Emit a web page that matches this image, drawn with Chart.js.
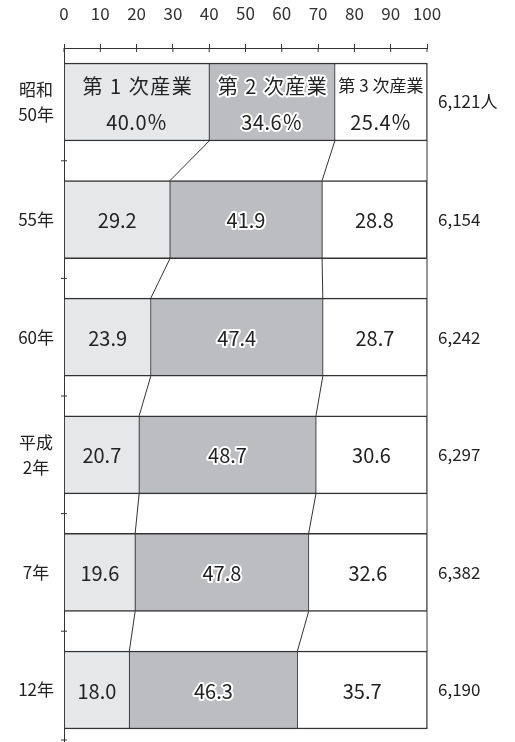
<!DOCTYPE html>
<html>
<head>
<meta charset="utf-8">
<script src="https://cdn.jsdelivr.net/npm/chart.js@4/dist/chart.umd.min.js"></script>
<style>
  html, body { margin: 0; padding: 0; background: #fff; }
  #wrap { width: 515px; height: 742px; position: relative; }
</style>
</head>
<body>
<div id="wrap"><canvas id="chart"></canvas></div>
<script>
// 年次
const years = [['昭和', '50年'], '55年', '60年', ['平成', '2年'], '7年', '12年'];
// 産業別構成比 (%)
const primary = [40.0, 29.2, 23.9, 20.7, 19.6, 18.0];
const secondary = [34.6, 41.9, 47.4, 48.7, 47.8, 46.3];
const tertiary = [25.4, 28.8, 28.7, 30.6, 32.6, 35.7];
// 就業者数 (万人)
const workers = [6121, 6154, 6242, 6297, 6382, 6190];
const sectorNames = ['第 1 次産業', '第 2 次産業', '第 3 次産業'];
const xTicks = [0, 10, 20, 30, 40, 50, 60, 70, 80, 90, 100];

const shares = [primary, secondary, tertiary];
const fills = ['#e6e7e9', '#bcbdc0', '#ffffff'];
const ink = '#222';
const font = '"Noto Sans CJK JP", "Noto Sans", sans-serif';

function rowTicks(axis) {
    axis.ticks = years.map((y, i) => ({ value: i }));
}

// 帯の間をつなぐ線、右端の線、左軸の目盛り
const connectors = {
    id: 'connectors',
    afterDatasetsDraw(chart) {
        const ctx = chart.ctx;
        const x = chart.scales.x;
        const y = chart.scales.y;
        const m0 = chart.getDatasetMeta(0).data;
        const m1 = chart.getDatasetMeta(1).data;
        ctx.save();
        ctx.strokeStyle = '#333';
        ctx.lineWidth = 1;
        ctx.beginPath();
        for (let i = 0; i < years.length - 1; i++) {
            [m0, m1].forEach(m => {
                const a = m[i], b = m[i + 1];
                ctx.moveTo(a.x, a.y + a.height / 2);
                ctx.lineTo(b.x, b.y - b.height / 2);
            });
        }
        // 右端
        const first = m0[0], last = m0[years.length - 1];
        const xr = x.getPixelForValue(100);
        ctx.moveTo(xr, first.y - first.height / 2);
        ctx.lineTo(xr, last.y + last.height / 2);
        // 左軸の目盛り
        for (let i = 0; i < years.length; i++) {
            const yy = i < years.length - 1 ? y.getPixelForValue(i + 0.5) : chart.chartArea.bottom - 2;
            ctx.moveTo(x.left - 3, yy);
            ctx.lineTo(x.left + 3, yy);
        }
        // 上軸の目盛り (下側)
        x.ticks.forEach(t => {
            const xx = x.getPixelForValue(t.value);
            ctx.moveTo(xx, x.bottom);
            ctx.lineTo(xx, x.bottom + 4);
        });
        ctx.stroke();
        ctx.restore();
    }
};

// 帯の中の数値
const barLabels = {
    id: 'barLabels',
    afterDatasetsDraw(chart) {
        const ctx = chart.ctx;
        ctx.save();
        ctx.textAlign = 'center';
        ctx.textBaseline = 'middle';
        ctx.lineJoin = 'round';
        function put(text, px, cx, cy, outline, spacing) {
            ctx.font = px + 'px ' + font;
            ctx.letterSpacing = spacing || '0px';
            if (outline) {
                ctx.strokeStyle = '#fff';
                ctx.lineWidth = 4;
                ctx.strokeText(text, cx, cy);
            }
            ctx.fillStyle = ink;
            ctx.fillText(text, cx, cy);
        }
        shares.forEach((vals, d) => {
            chart.getDatasetMeta(d).data.forEach((bar, i) => {
                const cx = (bar.x + bar.base) / 2;
                const cy = bar.y;
                const v = vals[i].toFixed(1);
                if (i === 0) {
                    if (d === 2) put(sectorNames[d], 17, cx, cy - 16, false);
                    else put(sectorNames[d], 20, cx + 1, cy - 16, d === 1, '1.5px');
                    put(v + '％', 20, cx, cy + 20, d === 1, '0.5px');
                } else {
                    put(v, 20, cx, cy + 1, d === 1);
                }
            });
        });
        ctx.restore();
    }
};

const ctx = document.getElementById('chart').getContext('2d');
new Chart(ctx, {
    type: 'bar',
    data: {
        datasets: shares.map((vals, d) => ({
            label: sectorNames[d],
            data: vals.map((v, i) => ({ x: v, y: i })),
            backgroundColor: fills[d],
            borderColor: '#333',
            borderWidth: { top: 1.5, bottom: 1.5, left: 0.75, right: 0.75 },
            borderSkipped: false,
            barThickness: 78
        }))
    },
    options: {
        indexAxis: 'y',
        responsive: true,
        maintainAspectRatio: false,
        animation: false,
        layout: { padding: 0 },
        plugins: {
            legend: { display: false },
            tooltip: { enabled: false }
        },
        scales: {
            x: {
                type: 'linear',
                position: 'top',
                stacked: true,
                min: 0,
                max: 100,
                afterBuildTicks: axis => { axis.ticks = xTicks.map(v => ({ value: v })); },
                afterFit: axis => { axis.height = 48; },
                grid: { drawOnChartArea: false, drawTicks: true, tickLength: 4, color: '#333' },
                border: { display: true, color: '#333', width: 1 },
                ticks: { color: '#333', padding: 20, font: { family: font, size: 17 } }
            },
            y: {
                type: 'linear',
                position: 'left',
                stacked: true,
                offset: false,
                reverse: true,
                min: -0.4592,
                max: 5.4422,
                afterBuildTicks: rowTicks,
                afterFit: axis => { axis.width = 64; axis.paddingTop = 0; axis.paddingBottom = 0; },
                grid: { display: false },
                border: { display: true, color: '#333', width: 1 },
                ticks: {
                    color: ink,
                    padding: 2,
                    crossAlign: 'center',
                    font: { family: font, size: 17, lineHeight: 1.45 },
                    callback: (v, i) => years[i]
                }
            },
            yR: {
                type: 'linear',
                position: 'right',
                offset: false,
                reverse: true,
                min: -0.4592,
                max: 5.4422,
                afterBuildTicks: rowTicks,
                afterFit: axis => { axis.width = 88; axis.paddingTop = 0; axis.paddingBottom = 0; },
                grid: { display: false },
                border: { display: false },
                ticks: {
                    color: ink,
                    padding: 3,
                    font: { family: font, size: 17 },
                    callback: (v, i) => workers[i].toLocaleString('en-US') + (i === 0 ? '人' : '')
                }
            }
        }
    },
    plugins: [connectors, barLabels]
});
</script>
</body>
</html>
